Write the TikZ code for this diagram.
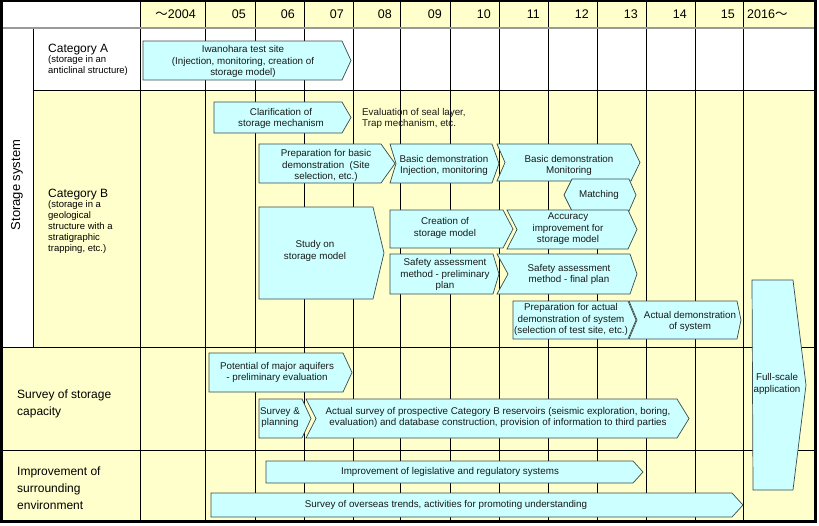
\documentclass[tikz,border=0pt]{standalone}
\usepackage{fontspec}
\setmainfont{Liberation Sans}
\newfontfamily\cjk{Noto Sans CJK JP}
\definecolor{cellyel}{HTML}{FFFFCC}
\definecolor{boxfill}{HTML}{CCFFFF}
\definecolor{boxline}{HTML}{3A4A4A}
\definecolor{hdrline}{HTML}{9A9A9A}
\tikzset{
  gridline/.style={draw=black, line width=1pt},
  bx/.style={fill=boxfill, draw=boxline, line width=0.7pt, line join=miter},
  bt/.style={font=\fontsize{9.8}{11.5}\selectfont, align=center, inner sep=0pt, text=black!90},
  yr/.style={font=\fontsize{12.5}{14}\selectfont, inner sep=0pt, anchor=east},
  lbl/.style={font=\fontsize{12}{17}\selectfont, align=left, inner sep=0pt, anchor=west},
  sub/.style={font=\fontsize{9.5}{11}\selectfont, align=left, inner sep=0pt, anchor=north west},
}
% x1 y1 x2 y2 tip notch
\newcommand\flowbox[6]{%
  \path[bx] (#1,#2) -- (#3,#2) -- (#5,{(#2+#4)/2}) -- (#3,#4) -- (#1,#4) -- ({#1+#6},{(#2+#4)/2}) -- cycle;}
\begin{document}
\begin{tikzpicture}[x=1pt,y=-1pt]
\useasboundingbox (0,0) rectangle (819,525);
\fill[white] (0,0) rectangle (819,525);
% backgrounds
\fill[cellyel] (140,0) rectangle (816,28);
\fill[cellyel] (33,90) rectangle (816,347);
\fill[cellyel] (0,347) rectangle (816,521);
% grid
\foreach \cx in {140,205,255,304,353,400,450,499,548,597,646,695,743}
  \draw[gridline] (\cx,0) -- (\cx,521);
\draw[gridline] (33,28) -- (33,347);
\draw[draw=hdrline, line width=1.5pt] (0,28) -- (816,28);
\draw[gridline] (33,90) -- (816,90);
\draw[gridline] (0,347) -- (816,347);
\draw[gridline] (0,450) -- (816,450);
% frame
\draw[black, line width=2.5pt] (1.5,1) rectangle (815.5,521.5);
% header
\node[yr] (y04) at (196,14) {{\cjk ～}2004};
\node[yr] (y05) at (246,14) {05};
\node[yr] (y06) at (295,14) {06};
\node[yr] (y07) at (344,14) {07};
\node[yr] (y08) at (392,14) {08};
\node[yr] (y09) at (442,14) {09};
\node[yr] (y10) at (491,14) {10};
\node[yr] (y11) at (540,14) {11};
\node[yr] (y12) at (589,14) {12};
\node[yr] (y13) at (638,14) {13};
\node[yr] (y14) at (687,14) {14};
\node[yr] (y15) at (735,14) {15};
\node[yr, anchor=west] (y16) at (747,14) {2016{\cjk ～}};
% row labels
\node[font=\fontsize{13}{15}\selectfont, rotate=90, inner sep=0pt] (ss) at (17,185) {Storage system};
\node[font=\fontsize{12}{14}\selectfont, inner sep=0pt, anchor=base west] (catA) at (48,52) {Category A};
\node[sub] (catAs) at (48,55.5) {(storage in an\\anticlinal structure)};
\node[font=\fontsize{12}{14}\selectfont, inner sep=0pt, anchor=base west] (catB) at (48,197) {Category B};
\node[sub] (catBs) at (48,200.5) {(storage in a\\geological\\structure with a\\stratigraphic\\trapping, etc.)};
\node[lbl] (surv) at (17,403.5) {Survey of storage\\capacity};
\node[lbl] (impr) at (17,488.5) {Improvement of\\surrounding\\environment};
% boxes
\flowbox{143}{41}{342}{80}{351}{0}
\node[bt] (iwa) at (243,61.5) {Iwanohara test site\\(Injection, monitoring, creation of\\storage model)};
\flowbox{214}{102}{342}{133}{351}{0}
\node[bt] (clar) at (281,118.5) {Clarification of\\storage mechanism};
\node[bt, align=left, anchor=west] (eval) at (362,118.5) {Evaluation of seal layer,\\Trap mechanism, etc.};
\flowbox{259}{144}{381}{183}{395}{0}
\node[bt] (prep) at (326,165.5) {Preparation for basic\\demonstration~ (Site\\selection, etc.)};
\flowbox{390}{144}{492}{183}{499}{6}
\node[bt] (bdi) at (444,165.5) {Basic demonstration\\Injection, monitoring};
\flowbox{497}{144}{631}{181}{640}{8}
\node[bt] (bdm) at (569,165.5) {Basic demonstration\\Monitoring};
\path[bx] (564,195) -- (572,179) -- (629,179) -- (636,195) -- (629,211) -- (572,211) -- cycle;
\node[bt] (match) at (599,195) {Matching};
\flowbox{259}{207}{373}{299}{384}{0}
\node[bt] (study) at (315,251) {Study on\\storage model};
\flowbox{390}{210}{503}{248}{513}{0}
\node[bt] (creat) at (445,228) {Creation of\\storage model};
\flowbox{507}{210}{628}{249}{637}{10}
\node[bt] (accu) at (568,229) {Accuracy\\improvement for\\storage model};
\flowbox{390}{254}{493}{294}{499}{0}
\node[bt] (safp) at (445,274.5) {Safety assessment\\method - preliminary\\plan};
\flowbox{497}{254}{630}{294}{637}{11}
\node[bt] (saff) at (569,274.5) {Safety assessment\\method - final plan};
\flowbox{513}{301}{628}{339}{636}{0}
\node[bt] (prepa) at (571,319.5) {Preparation for actual\\demonstration of system\\(selection of test site, etc.)};
\flowbox{629}{301}{737}{339}{741}{8}
\node[bt] (actd) at (690,321.5) {Actual demonstration\\of system};
\path[bx] (752,280) -- (793,280) -- (806,385) -- (793,490) -- (753,490) -- cycle;
\node[bt] (full) at (777,384) {Full-scale\\application};
\flowbox{209}{353}{343}{392}{352}{0}
\node[bt] (pot) at (277,372.5) {Potential of major aquifers\\- preliminary evaluation};
\flowbox{259}{399}{302}{438}{311}{0}
\node[bt] (sp) at (280,417.5) {Survey \&\\planning};
\flowbox{306}{399}{677}{438}{689}{10}
\node[bt] (asurv) at (498,417.5) {Actual survey of prospective Category B reservoirs (seismic exploration, boring,\\evaluation) and database construction, provision of information to third parties};
\flowbox{266}{461}{633}{483}{643}{0}
\node[bt] (legis) at (450,472) {Improvement of legislative and regulatory systems};
\flowbox{211}{493}{732}{517}{743}{0}
\node[bt] (overs) at (446,505) {Survey of overseas trends, activities for promoting understanding};
\end{tikzpicture}
\end{document}
